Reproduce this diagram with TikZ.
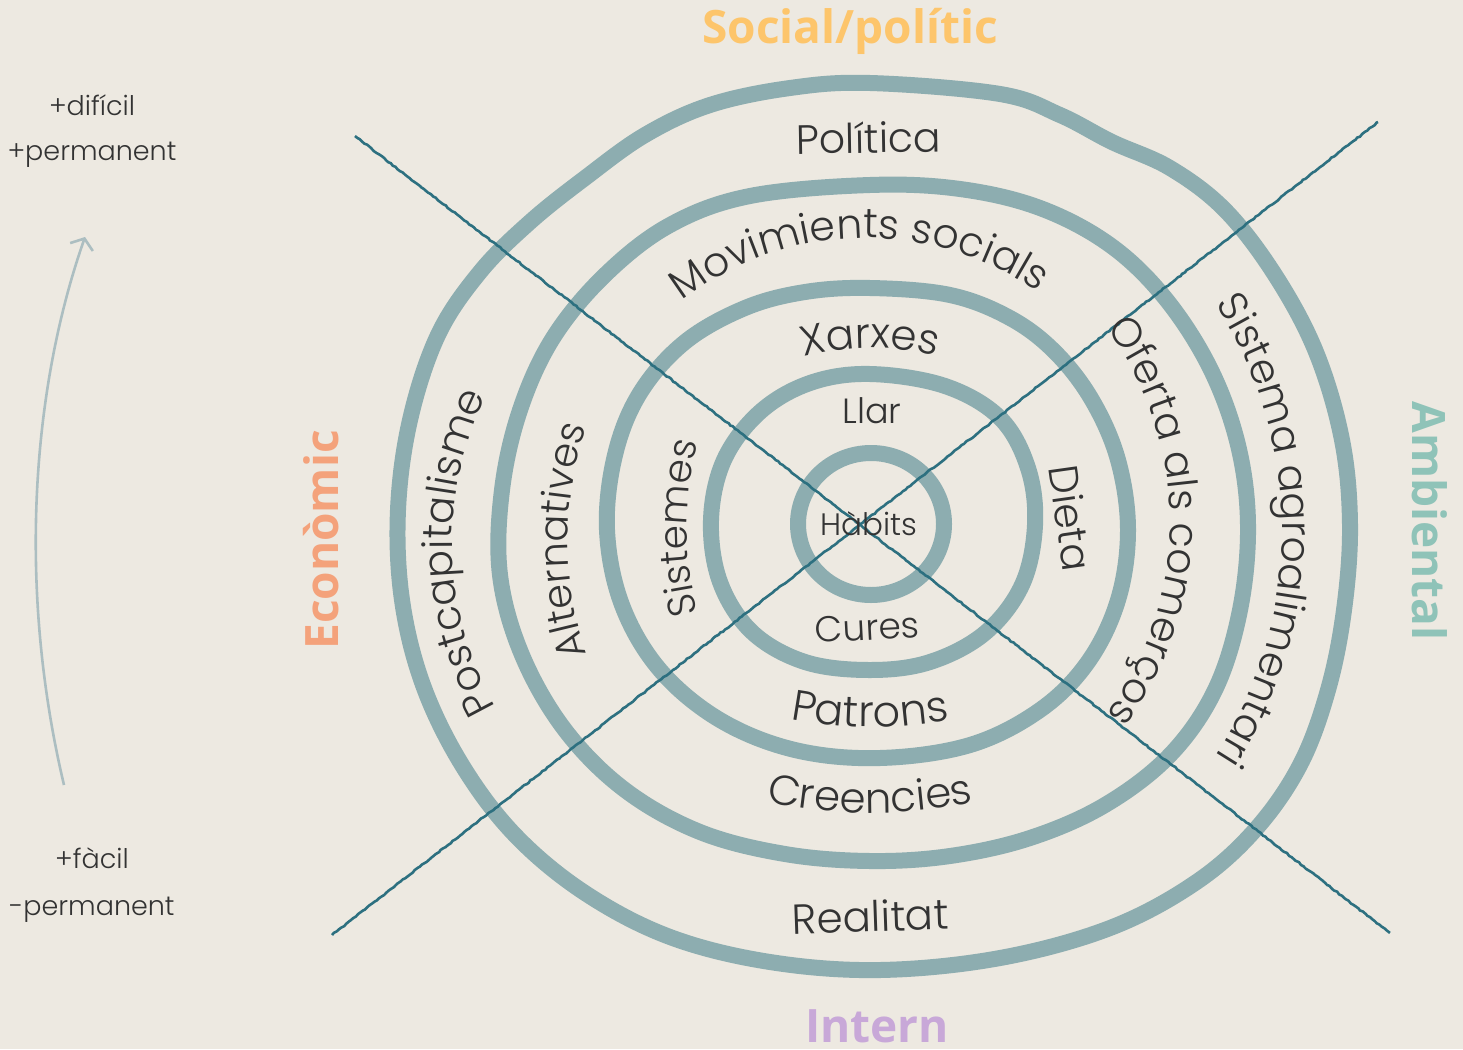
\documentclass[tikz,border=0pt]{standalone}
\usepackage{fontspec}
\setmainfont{Poppins}[UprightFont=* Light]
\newfontfamily\headfont{Open Sans}
\usetikzlibrary{decorations.text,decorations.pathmorphing,arrows.meta}
\definecolor{bg}{RGB}{237,233,225}
\definecolor{ringc}{RGB}{141,173,176}
\definecolor{linec}{RGB}{45,112,128}
\definecolor{txt}{RGB}{51,51,51}
\definecolor{socialc}{RGB}{253,197,107}
\definecolor{ambc}{RGB}{143,195,184}
\definecolor{ecoc}{RGB}{244,162,123}
\definecolor{intc}{RGB}{200,168,216}
\definecolor{arrc}{RGB}{172,190,193}
\newcommand\fsz[1]{\fontsize{#1}{#1}\selectfont}
\begin{document}
\begin{tikzpicture}[x=1pt,y=-1pt,
  ring/.style={draw=ringc, line width=16pt, line join=round},
  diag/.style={draw=linec, line width=2.6pt, decorate,
    decoration={random steps, segment length=3pt, amplitude=0.55pt}},
  lbl/.style={text=txt, inner sep=0pt},
  head/.style={font=\headfont\bfseries\fsz{46}, inner sep=0pt},
  side/.style={font=\fsz{27}, text=txt, inner sep=0pt},
  curv/.style={decorate, decoration={text along path, text align=center,
    text color=txt, text={#1}}}]
\fill[bg] (0,0) rectangle (1463,1049);
\useasboundingbox (0,0) rectangle (1463,1049);

% rings
\draw[ring] plot[smooth cycle, tension=0.6] coordinates {
 (870,83) (1000,94) (1060,115) (1112,142) (1170,168) (1225,210) (1275,275)
 (1316,352) (1342,440) (1350,525) (1344,610) (1328,690) (1300,765) (1255,830)
 (1195,883) (1110,928) (1000,958) (880,970) (770,962) (670,937) (585,893)
 (515,835) (462,765) (423,685) (402,600) (398,510) (410,420) (438,335)
 (480,272) (530,222) (585,178) (645,135) (710,105) (790,88)};
\draw[ring] plot[smooth cycle, tension=0.6] coordinates {
 (870,185) (960,189) (1040,208) (1110,245) (1165,298) (1210,368) (1238,445)
 (1248,525) (1240,610) (1215,690) (1170,755) (1105,805) (1030,838) (950,856)
 (870,861) (785,854) (700,832) (625,790) (565,730) (522,655) (500,575)
 (502,490) (520,410) (553,338) (605,275) (670,225) (750,196)};
\draw[ring] plot[smooth cycle, tension=0.6] coordinates {
 (870,288) (950,295) (1010,318) (1055,352) (1092,400) (1118,460) (1128,530)
 (1118,600) (1088,662) (1040,710) (970,745) (880,758) (795,750) (720,720)
 (660,670) (622,605) (607,530) (615,455) (640,393) (685,342) (745,308) (805,292)};
\draw[ring] plot[smooth cycle, tension=0.6] coordinates {
 (870,374) (945,386) (1000,418) (1028,468) (1035,525) (1022,585) (985,633)
 (930,662) (870,670) (805,662) (752,632) (720,582) (711,520) (724,460)
 (760,412) (810,383)};
\draw[ring] (871,524) ellipse [x radius=73, y radius=71];

% diagonal lines
\coordinate (a1) at (355,136); \coordinate (a2) at (1390,933);
\coordinate (b1) at (332,935); \coordinate (b2) at (1378,122);
\draw[diag] (a1) -- (a2);
\draw[diag] (b1) -- (b2);

% arrow on the left
\coordinate (ab) at (64,785); \coordinate (at) at (85,237);
\draw[arrc, line width=2.6pt, -{Straight Barb[length=9pt,width=24pt]}]
  (ab) .. controls (20,600) and (28,400) .. (at);

% side texts
\node[side, anchor=base] (d1) at (92,115) {+difícil};
\node[side, anchor=base] (d2) at (92,160) {+permanent};
\node[side, anchor=base] (f1) at (92,868) {+fàcil};
\node[side, anchor=base] (f2) at (92,915) {-permanent};

% headings
\node[head, text=socialc, anchor=base] (soc) at (850,44) {Social/polític};
\node[head, text=ambc, anchor=base, rotate=-90] (amb) at (1412,521) {Ambiental};
\node[head, text=ecoc, anchor=base, rotate=90] (eco) at (338,540) {Econòmic};
\node[head, text=intc, anchor=base] (int) at (877,1042) {Intern};

% straight labels
\node[lbl, font=\fsz{41}, rotate=1, anchor=base] (pol) at (869,153) {Política};
\node[lbl, font=\fsz{35}, anchor=base] (llar) at (872,423) {Llar};
\node[lbl, font=\fsz{31}, anchor=base] (hab) at (869,535) {Hàbits};
\node[lbl, font=\fsz{36}, rotate=3, anchor=base] (cur) at (868,640) {Cures};
\node[lbl, font=\fsz{41}, rotate=-82, anchor=base] (die) at (1056,520) {Dieta};
\node[lbl, font=\fsz{42}, rotate=2, anchor=base] (real) at (871,932) {Realitat};

% curved labels
\path[curv={|\fsz{41}|Movimients socials}, shift={(866,538)}]
  (-141.4:300) arc[start angle=-141.4, end angle=-41.4, radius=300];
\path[curv={|\fsz{42}|Xarxes}, shift={(870,620)}]
  (-120:272) arc[start angle=-120, end angle=-60, radius=272];
\path[curv={|\fsz{43}|Patrons}, shift={(870,300)}]
  (110:427) arc[start angle=110, end angle=70, radius=427];
\path[curv={|\fsz{42}|Creencies}, shift={(870,300)}]
  (106:513) arc[start angle=106, end angle=74, radius=513];
\path[curv={|\fsz{41}|Postcapitalisme}, shift={(782,543)}]
  (138.3:330) arc[start angle=138.3, end angle=218.3, radius=330];
\path[curv={|\fsz{40}|Alternatives}, shift={(925,541)}]
  (150:357) arc[start angle=150, end angle=210, radius=357];
\path[curv={|\fsz{39}|Sistemes}, shift={(1028,528)}]
  (160:341) arc[start angle=160, end angle=200, radius=341];
\path[curv={|\fsz{41}|Oferta als comerços}, shift={(845,521)}]
  (-50:325) arc[start angle=-50, end angle=50, radius=325];
\path[curv={|\fsz{41}|Sistema agroalimentari}, shift={(864,530)}]
  (-50:418) arc[start angle=-50, end angle=50, radius=418];
\end{tikzpicture}
\end{document}
